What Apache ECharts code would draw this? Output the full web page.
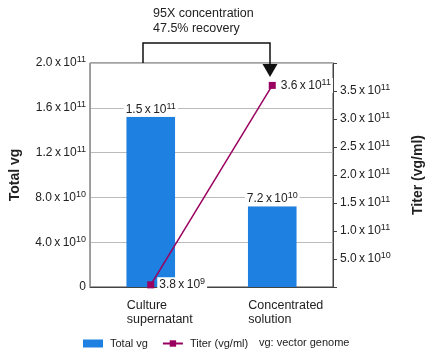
<!DOCTYPE html>
<html>
<head>
<meta charset="utf-8">
<script src="https://cdn.jsdelivr.net/npm/echarts@6/dist/echarts.min.js"></script>
<style>html,body{margin:0;padding:0;background:#fff}#c{width:432px;height:358px}</style>
</head>
<body>
<div id="c"></div>
<script>
var categories = ['Culture\nsupernatant', 'Concentrated\nsolution'];
var totalVg = [1.52e11, 7.2e10];
var titer = [3.8e9, 3.6e11];
var seriesNames = ['Total vg', 'Titer (vg/ml)'];
var noteText = 'vg: vector genome';
var annotText = '95X concentration\n47.5% recovery';

function sci(v) {
  if (v === 0) return '{a|0}';
  var e = Math.floor(Math.log10(v) + 1e-9);
  var m = v / Math.pow(10, e);
  return '{a|' + m.toFixed(1) + '\u2009x\u200910}{s|' + e + '}';
}
var font = 'Liberation Sans';
var rich = {
  a: {fontSize: 12, color: '#222', fontFamily: font},
  s: {fontSize: 9, color: '#222', fontFamily: font, padding: [0, 0, 6, 0]}
};
var chart = echarts.init(document.getElementById('c'), null, {renderer: 'canvas'});
chart.setOption({
  animation: false,
  textStyle: {fontFamily: font, color: '#222'},
  grid: {left: 90, right: 99, top: 63, bottom: 71, show: true, borderColor: '#444', borderWidth: 1,
         containLabel: false, outerBoundsMode: 'none'},
  xAxis: {
    type: 'category', data: categories,
    axisLine: {show: true, lineStyle: {color: '#444'}},
    axisTick: {show: false},
    axisLabel: {
      color: '#222', fontSize: 12.5, lineHeight: 14, margin: 12,
      align: 'left', padding: [0, 0, 0, -24], fontFamily: font
    }
  },
  yAxis: [{
    type: 'value', min: 0, max: 2e11, interval: 4e10, position: 'left',
    name: 'Total vg', nameLocation: 'middle', nameGap: 68,
    nameTextStyle: {fontSize: 14, fontWeight: 'bold', color: '#222', fontFamily: font},
    axisLine: {show: true, lineStyle: {color: '#999'}},
    axisTick: {show: false},
    splitLine: {lineStyle: {color: '#bbb'}},
    axisLabel: {formatter: sci, rich: rich, margin: 4, fontSize: 12, color: '#222'}
  }, {
    type: 'value', min: 0, max: 4e11, interval: 5e10, position: 'right',
    name: 'Titer (vg/ml)', nameLocation: 'middle', nameGap: 78,
    nameTextStyle: {fontSize: 14, fontWeight: 'bold', color: '#222', fontFamily: font},
    axisLine: {show: true, lineStyle: {color: '#444'}},
    axisTick: {show: true, length: 4, lineStyle: {color: '#444'}},
    splitLine: {show: false},
    axisLabel: {
      formatter: function (v) { return (v === 0 || v >= 4e11) ? '' : sci(v); },
      rich: rich, margin: 7, fontSize: 12, color: '#222'
    }
  }],
  legend: {
    bottom: 9, left: 83, padding: 0, itemWidth: 20, itemHeight: 8, itemGap: 14,
    textStyle: {fontSize: 11, color: '#222', fontFamily: font, padding: [0, 0, 0, 2]},
    data: [{name: seriesNames[0], icon: 'rect'}, {name: seriesNames[1]}]
  },
  series: [{
    name: seriesNames[0], type: 'bar', data: totalVg, barWidth: '40%', yAxisIndex: 0,
    itemStyle: {color: '#1e80e0'},
    label: {
      show: true, position: 'top', distance: 0, formatter: function (p) { return sci(p.value); },
      rich: rich, backgroundColor: '#fff', padding: [0, 2, 0, 2]
    }
  }, {
    name: seriesNames[1], type: 'line', data: titer, yAxisIndex: 1,
    symbol: 'rect', symbolSize: 7,
    lineStyle: {color: '#99005f', width: 1.5},
    itemStyle: {color: '#99005f'},
    label: {
      show: true, position: 'right', distance: 3, formatter: function (p) { return sci(p.value); },
      rich: rich, backgroundColor: '#fff', padding: [0, 2, 0, 2]
    },
    z: 5
  }],
  graphic: [
    {type: 'polyline', shape: {points: [[143, 63], [143, 43], [270, 43], [270, 66]]},
     style: {stroke: '#111', lineWidth: 1.5, fill: null}, z: 10},
    {type: 'polygon', shape: {points: [[262.5, 64], [277.5, 64], [270, 77]]},
     style: {fill: '#111'}, z: 10},
    {type: 'text', left: 153, top: 6,
     style: {text: annotText, fontSize: 12.5, lineHeight: 15, fill: '#222', fontFamily: font}},
    {type: 'text', left: 259, top: 337,
     style: {text: noteText, fontSize: 11, fill: '#222', fontFamily: font}}
  ]
});
</script>
</body>
</html>
